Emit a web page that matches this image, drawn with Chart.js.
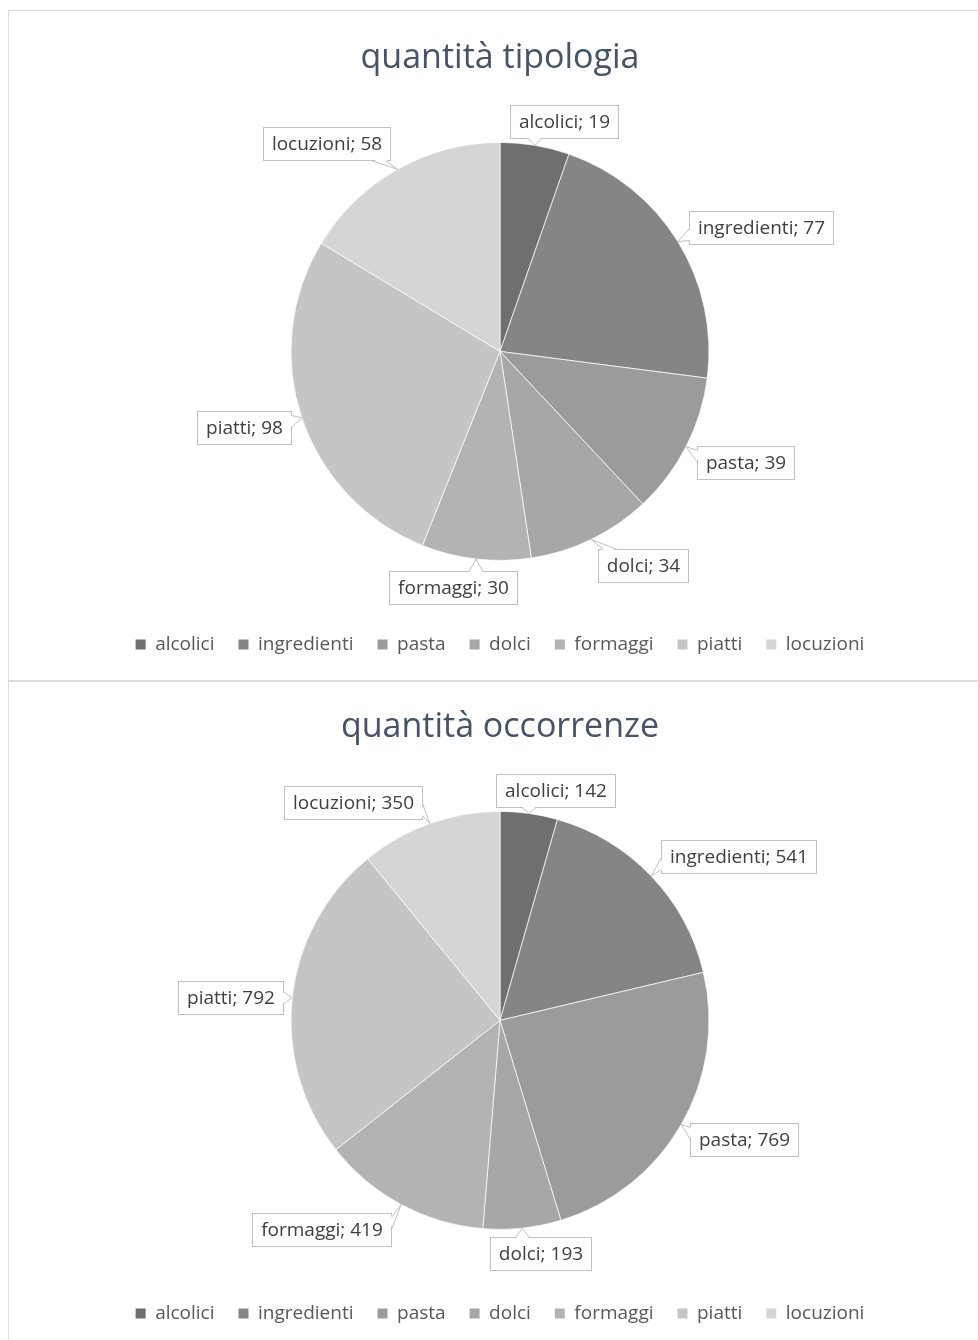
<!DOCTYPE html>
<html>
<head>
<meta charset="utf-8">
<script src="https://cdn.jsdelivr.net/npm/chart.js@4.4.1/dist/chart.umd.min.js"></script>
<style>
  html, body { margin: 0; padding: 0; background: #fff; overflow: hidden; }
  .frame { position: absolute; background: #dcdcdc; }
  canvas { position: absolute; left: 8px; }
</style>
</head>
<body>
<div class="frame" style="left:8px;top:10px;width:970px;height:1px"></div>
<div class="frame" style="left:8px;top:10px;width:1px;height:1330px"></div>
<div class="frame" style="left:8px;top:680px;width:970px;height:2px"></div>
<canvas id="chartTipologia" width="970" height="670" style="top:10px"></canvas>
<canvas id="chartOccorrenze" width="970" height="670" style="top:679px"></canvas>
<script>
// ---------------------------------------------------------------------------
// data
// ---------------------------------------------------------------------------
const categories = ["alcolici", "ingredienti", "pasta", "dolci", "formaggi", "piatti", "locuzioni"];
const tipologiaValues  = [19, 77, 39, 34, 30, 98, 58];
const occorrenzeValues = [142, 541, 769, 193, 419, 792, 350];
const titleTipologia  = "quantità tipologia";
const titleOccorrenze = "quantità occorrenze";

// styles / label placement tweaks (Excel "best fit" is not a clean rule)
const sliceColors = ["#6f6f6f", "#858585", "#9b9b9b", "#a7a7a7", "#b3b3b3", "#c5c5c5", "#d5d5d5"];
const tipologiaNudge  = [[17, 10], [7, 4], [0, 0], [24, -5], [-14, -6], [4, -1], [-31, 4]];
const occorrenzeNudge = [[16, 11], [18, 4], [0, -2], [11, -9], [-38, -5], [8, 4], [-47, 11]];

const FONT = "'Open Sans', Lato, sans-serif";

//-----------------------------------------------------------------------------
// callout boxes with a little wedge pointing at the slice
//-----------------------------------------------------------------------------
const calloutLabels = {
    id: "calloutLabels",
    afterDatasetsDraw(chart, args, opts) {
        const ctx = chart.ctx;
        const meta = chart.getDatasetMeta(0);
        const values = chart.data.datasets[0].data;
        ctx.save();
        ctx.font = `19px ${FONT}`;
        meta.data.forEach((arc, i) => {
            const { x, y, startAngle, endAngle, outerRadius } =
                arc.getProps(["x", "y", "startAngle", "endAngle", "outerRadius"], true);
            const mid = (startAngle + endAngle) / 2;
            const ux = Math.cos(mid), uy = Math.sin(mid);
            const text = `${chart.data.labels[i]}; ${values[i]}`;
            const w = Math.round(ctx.measureText(text).width + 17), h = 33;
            const nudge = opts.nudge[i] || [0, 0];
            const px = x + (outerRadius + 18) * ux, py = y + (outerRadius + 18) * uy;
            const cx = px + ux * w / 2 + nudge[0], cy = py + uy * h / 2 + nudge[1];
            const left = Math.round(cx - w / 2) + 0.5, top = Math.round(cy - h / 2) + 0.5;

            // point on the pie edge
            const ax = x + outerRadius * ux, ay = y + outerRadius * uy;

            ctx.fillStyle = "#fff";
            ctx.strokeStyle = "#c0c0c0";
            ctx.lineWidth = 1;
            ctx.fillRect(left, top, w, h);
            ctx.strokeRect(left, top, w, h);

            // wedge base on the nearest box side
            const dxOut = ax < left ? left - ax : (ax > left + w ? ax - left - w : 0);
            const dyOut = ay < top ? top - ay : (ay > top + h ? ay - top - h : 0);
            let b1, b2, e1, e2;
            if (dyOut >= dxOut) {
                const by = ay < top ? top : top + h;
                const inner = ay < top ? 1.5 : -1.5;
                const bx = Math.min(Math.max(ax, left + 12), left + w - 12);
                b1 = [bx - 7, by + inner]; b2 = [bx + 7, by + inner];
                e1 = [bx - 7, by]; e2 = [bx + 7, by];
            } else {
                const bx = ax < left ? left : left + w;
                const inner = ax < left ? 1.5 : -1.5;
                const by = Math.min(Math.max(ay, top + 10), top + h - 10);
                b1 = [bx + inner, by - 6]; b2 = [bx + inner, by + 6];
                e1 = [bx, by - 6]; e2 = [bx, by + 6];
            }
            ctx.beginPath();
            ctx.moveTo(b1[0], b1[1]);
            ctx.lineTo(ax, ay);
            ctx.lineTo(b2[0], b2[1]);
            ctx.closePath();
            ctx.fill();
            ctx.beginPath();
            ctx.moveTo(e1[0], e1[1]);
            ctx.lineTo(ax, ay);
            ctx.lineTo(e2[0], e2[1]);
            ctx.stroke();

            ctx.fillStyle = "#404040";
            ctx.textAlign = "center";
            ctx.textBaseline = "middle";
            ctx.fillText(text, left + w / 2, top + h / 2 + 1);
        });
        ctx.restore();
    }
};

// legend squares without the white slice border round them
function solidLegendBoxes(chart) {
    return Chart.controllers.pie.overrides.plugins.legend.labels.generateLabels(chart).map(label => ({
        ...label,
        strokeStyle: label.fillStyle,
        lineWidth: 0
    }));
}

//-----------------------------------------------------------------------------
function drawPie(canvasId, title, values, nudge) {
    const ctx = document.getElementById(canvasId).getContext("2d");
    return new Chart(ctx, {
        type: "pie",
        data: {
            labels: categories,
            datasets: [{
                data: values,
                backgroundColor: sliceColors,
                borderColor: "rgba(255,255,255,0.7)",
                borderWidth: 1,
                radius: 209
            }]
        },
        options: {
            responsive: false,
            animation: false,
            devicePixelRatio: 1,
            layout: { padding: { left: 14, right: 0, top: 10, bottom: 16 } },
            plugins: {
                title: {
                    display: true,
                    text: title,
                    color: "#44546a",
                    font: { size: 34, family: FONT, weight: "normal" },
                    padding: { top: 18, bottom: 13 }
                },
                legend: {
                    position: "bottom",
                    labels: {
                        boxWidth: 10,
                        boxHeight: 10,
                        padding: 24,
                        color: "#595959",
                        font: { size: 19, family: FONT },
                        generateLabels: solidLegendBoxes
                    }
                },
                tooltip: { enabled: false },
                calloutLabels: { nudge }
            }
        },
        plugins: [calloutLabels]
    });
}

drawPie("chartTipologia", titleTipologia, tipologiaValues, tipologiaNudge);
drawPie("chartOccorrenze", titleOccorrenze, occorrenzeValues, occorrenzeNudge);
</script>
</body>
</html>
